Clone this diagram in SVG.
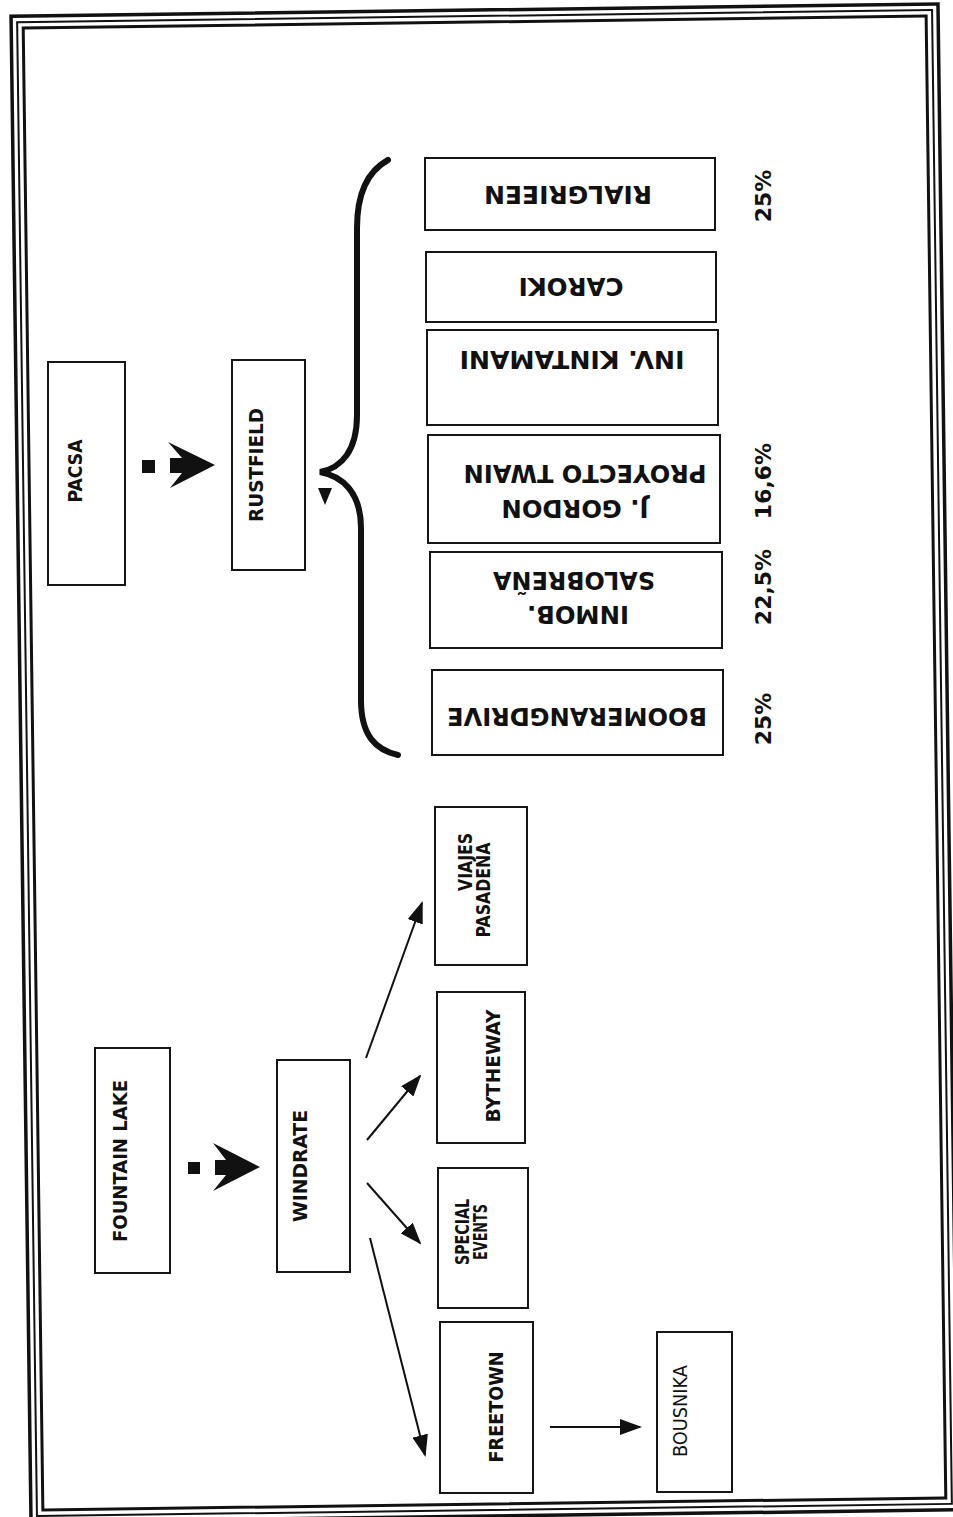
<svg xmlns="http://www.w3.org/2000/svg" width="953" height="1517" viewBox="0 0 953 1517">
<style>
.box{fill:#fff;stroke:#161616;stroke-width:2}
.lt{font-family:"DejaVu Sans Condensed","DejaVu Sans",Verdana,sans-serif;font-weight:bold;font-size:20px;fill:#111}
.lr{font-family:"DejaVu Sans Condensed","DejaVu Sans",Verdana,sans-serif;font-weight:normal;font-size:19px;fill:#111}
.rt{font-family:"DejaVu Sans",Verdana,sans-serif;font-weight:bold;font-size:24.5px;fill:#111}
.pc{font-family:"DejaVu Sans",Verdana,sans-serif;font-weight:bold;font-size:22px;fill:#111}
.con{stroke:#111;stroke-width:2;fill:none}
.frame{fill:none;stroke:#111}
</style>
<defs>
<marker id="ah" markerUnits="userSpaceOnUse" markerWidth="22" markerHeight="16" refX="20" refY="8" orient="auto">
<path d="M0,0 L22,8 L0,16 Z" fill="#111"/>
</marker>
</defs>
<rect width="953" height="1517" fill="#fff"/>
<g id="frame" transform="rotate(-0.76 485 763)">
<rect class="frame" x="21" y="10" width="927" height="1506" stroke-width="3.5"/>
<rect class="frame" x="27" y="16" width="915" height="1494" stroke-width="2"/>
<rect class="frame" x="33" y="22" width="903" height="1482" stroke-width="3"/>
</g>
<g id="connectors">
<rect x="142" y="460" width="13" height="13" fill="#111"/>
<path d="M168,442 L215,465 L170,488 L182,473 L170,473 L170,458 L182,458 Z" fill="#111"/>
<rect x="188" y="1162" width="12" height="12" fill="#111"/>
<path d="M213,1143 L260,1167 L213,1191 L226,1175 L215,1175 L215,1160 L226,1160 Z" fill="#111"/>
<path d="M388,160 C366,172 357,195 357,228 L357,415 C357,450 342,468 320,472 C342,476 361,492 361,528 L361,700 C361,736 376,750 398,755" fill="none" stroke="#111" stroke-width="6" stroke-linecap="round"/>
<path d="M318,488 L332,488 L325,505 Z" fill="#111"/>
<line class="con" x1="366" y1="1058" x2="422" y2="903" marker-end="url(#ah)"/>
<line class="con" x1="367" y1="1140" x2="420" y2="1076" marker-end="url(#ah)"/>
<line class="con" x1="367" y1="1183" x2="420" y2="1243" marker-end="url(#ah)"/>
<line class="con" x1="370" y1="1238" x2="425" y2="1455" marker-end="url(#ah)"/>
<line class="con" x1="550" y1="1427" x2="640" y2="1427" marker-end="url(#ah)"/>
</g>
<g id="pacsa">
<rect class="box" x="48" y="362" width="77" height="223"/>
<text class="lt" x="75" y="478" text-anchor="middle" transform="rotate(-90 75 471)" textLength="63" lengthAdjust="spacingAndGlyphs">PACSA</text>
</g>
<g id="rustfield">
<rect class="box" x="232" y="360" width="73" height="210"/>
<text class="lt" x="256" y="472" text-anchor="middle" transform="rotate(-90 256 465)" textLength="114" lengthAdjust="spacingAndGlyphs">RUSTFIELD</text>
</g>
<g id="rialgrieen">
<rect class="box" x="425" y="158" width="290" height="72"/>
<text class="rt" x="568" y="204" text-anchor="middle" transform="rotate(180 568 195)" textLength="168" lengthAdjust="spacingAndGlyphs">RIALGRIEEN</text>
</g>
<g id="caroki">
<rect class="box" x="426" y="252" width="290" height="70"/>
<text class="rt" x="571" y="296" text-anchor="middle" transform="rotate(180 571 287)" textLength="105" lengthAdjust="spacingAndGlyphs">CAROKI</text>
</g>
<g id="kintamani">
<rect class="box" x="427" y="330" width="291" height="95"/>
<text class="rt" x="572" y="369" text-anchor="middle" transform="rotate(180 572 360)" textLength="225" lengthAdjust="spacingAndGlyphs">INV. KINTAMANI</text>
</g>
<g id="gordon">
<rect class="box" x="428" y="435" width="292" height="108"/>
<text class="rt" x="575" y="518" text-anchor="middle" transform="rotate(180 575 509)" textLength="147" lengthAdjust="spacingAndGlyphs">J. GORDON</text>
<text class="rt" x="585" y="483" text-anchor="middle" transform="rotate(180 585 474)" textLength="243" lengthAdjust="spacingAndGlyphs">PROYECTO TWAIN</text>
</g>
<g id="salobrena">
<rect class="box" x="430" y="552" width="292" height="96"/>
<text class="rt" x="578" y="624" text-anchor="middle" transform="rotate(180 578 615)" textLength="102" lengthAdjust="spacingAndGlyphs">INMOB.</text>
<text class="rt" x="574" y="590" text-anchor="middle" transform="rotate(180 574 581)" textLength="162" lengthAdjust="spacingAndGlyphs">SALOBREÑA</text>
</g>
<g id="boomerangdrive">
<rect class="box" x="432" y="670" width="291" height="85"/>
<text class="rt" x="577" y="726" text-anchor="middle" transform="rotate(180 577 717)" textLength="260" lengthAdjust="spacingAndGlyphs">BOOMERANGDRIVE</text>
</g>
<g id="percentages">
<text class="pc" x="763" y="204" text-anchor="middle" transform="rotate(-90 763 196)">25%</text>
<text class="pc" x="763" y="489" text-anchor="middle" transform="rotate(-90 763 481)">16,6%</text>
<text class="pc" x="763" y="595" text-anchor="middle" transform="rotate(-90 763 587)">22,5%</text>
<text class="pc" x="763" y="727" text-anchor="middle" transform="rotate(-90 763 719)">25%</text>
</g>
<g id="fountainlake">
<rect class="box" x="95" y="1048" width="75" height="225"/>
<text class="lt" x="120" y="1168" text-anchor="middle" transform="rotate(-90 120 1161)" textLength="162" lengthAdjust="spacingAndGlyphs">FOUNTAIN LAKE</text>
</g>
<g id="windrate">
<rect class="box" x="277" y="1060" width="73" height="212"/>
<text class="lt" x="300" y="1173" text-anchor="middle" transform="rotate(-90 300 1166)" textLength="112" lengthAdjust="spacingAndGlyphs">WINDRATE</text>
</g>
<g id="viajes">
<rect class="box" x="435" y="807" width="92" height="158"/>
<text class="lt" x="465" y="869" text-anchor="middle" transform="rotate(-90 465 862)" textLength="58" lengthAdjust="spacingAndGlyphs">VIAJES</text>
<text class="lt" x="483" y="897" text-anchor="middle" transform="rotate(-90 483 890)" textLength="95" lengthAdjust="spacingAndGlyphs">PASADENA</text>
</g>
<g id="bytheway">
<rect class="box" x="437" y="992" width="88" height="151"/>
<text class="lt" x="493" y="1073" text-anchor="middle" transform="rotate(-90 493 1066)" textLength="113" lengthAdjust="spacingAndGlyphs">BYTHEWAY</text>
</g>
<g id="specialevents">
<rect class="box" x="438" y="1168" width="90" height="140"/>
<text class="lt" x="462" y="1239" text-anchor="middle" transform="rotate(-90 462 1232)" textLength="66" lengthAdjust="spacingAndGlyphs">SPECIAL</text>
<text class="lt" x="480" y="1239" text-anchor="middle" transform="rotate(-90 480 1232)" textLength="56" lengthAdjust="spacingAndGlyphs">EVENTS</text>
</g>
<g id="freetown">
<rect class="box" x="440" y="1322" width="93" height="171"/>
<text class="lt" x="496" y="1414" text-anchor="middle" transform="rotate(-90 496 1407)" textLength="111" lengthAdjust="spacingAndGlyphs">FREETOWN</text>
</g>
<g id="bousnika">
<rect class="box" x="657" y="1332" width="75" height="160"/>
<text class="lr" x="680" y="1418" text-anchor="middle" transform="rotate(-90 680 1411)" textLength="92" lengthAdjust="spacingAndGlyphs">BOUSNIKA</text>
</g>
</svg>
